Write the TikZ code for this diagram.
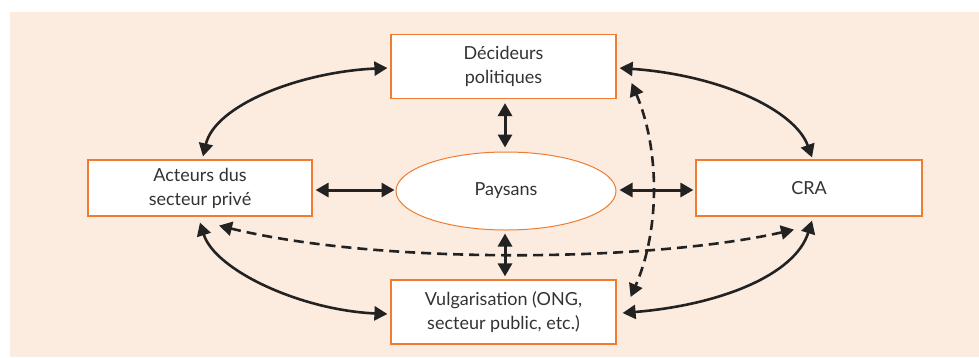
\documentclass[tikz,border=0pt]{standalone}
\usepackage{fontspec}
\setmainfont{Lato}
\usetikzlibrary{arrows.meta,shapes.geometric}
\definecolor{peach}{HTML}{FCEBDF}
\definecolor{borange}{HTML}{EE7D31}
\definecolor{txt}{HTML}{333333}
\definecolor{arr}{HTML}{222222}
\tikzset{
  box/.style={draw=borange, line width=1.2pt, fill=white, minimum width=225pt, minimum height=#1, align=center, text=txt, font=\fontsize{18}{24}\selectfont, inner sep=0pt},
  oval/.style={draw=borange, line width=1pt, fill=white, ellipse, minimum width=220pt, minimum height=78pt, text=txt, font=\fontsize{18}{24}\selectfont, inner sep=0pt},
  biarrow/.style={draw=arr, line width=2.6pt, {Triangle[length=13pt,width=14pt]}-{Triangle[length=13pt,width=14pt]}},
  straightarrow/.style={biarrow, line width=3pt},
  dasharrow/.style={biarrow, dash pattern=on 10pt off 6pt}
}
\begin{document}
\begin{tikzpicture}[x=1pt,y=-1pt]
\useasboundingbox (0,0) rectangle (979,357);
\fill[peach] (10,12) rectangle (979,357);
\node[box=64pt] (dec) at (503.5,66.5) {Décideurs\\politiques};
\node[box=56pt, minimum width=224pt] (act) at (200,188) {Acteurs dus\\secteur privé};
\node[box=56pt, minimum width=226pt] (cra) at (809,188) {CRA};
\node[box=64pt] (vul) at (503.5,312) {Vulgarisation (ONG,\\secteur public, etc.)};
\node[oval] (pay) at (506,191) {Paysans};
% curved solid
\draw[biarrow] ([xshift=-3pt,yshift=-1.5pt]dec.west) .. controls (300,72) and (215,105) .. ([xshift=3pt,yshift=3pt]act.north);
\draw[biarrow] ([xshift=3pt,yshift=-1.5pt]dec.east) .. controls (720,75) and (795,110) .. ([xshift=3pt,yshift=2pt]cra.north);
\draw[biarrow] ([yshift=-6pt]act.south) .. controls (215,270) and (300,310) .. ([xshift=-3pt,yshift=-2pt]vul.west);
\draw[biarrow] ([xshift=3pt,yshift=-4pt]cra.south) .. controls (795,275) and (720,305) .. ([xshift=6pt,yshift=-1pt]vul.east);
% straight
\draw[straightarrow] ([xshift=1.5pt,yshift=-4pt]dec.south) -- ([xshift=-1pt,yshift=4pt]pay.north);
\draw[straightarrow] ([xshift=-1pt,yshift=-3pt]pay.south) -- ([xshift=1.5pt,yshift=3pt]vul.north);
\draw[straightarrow] ([xshift=3pt,yshift=-2pt]act.east) -- ([xshift=-1pt,yshift=1pt]pay.west);
\draw[straightarrow] ([xshift=3pt,yshift=1pt]pay.east) -- ([xshift=-2pt,yshift=-2pt]cra.west);
% dashed
\draw[dasharrow] ([xshift=19pt,yshift=-9pt]act.south) .. controls (380,265) and (650,262) .. ([xshift=-15pt,yshift=-13pt]cra.south);
\draw[dasharrow] ([xshift=15pt,yshift=-16.5pt]dec.east) .. controls (660,150) and (660,230) .. ([xshift=14pt,yshift=15pt]vul.east);
\end{tikzpicture}
\end{document}
